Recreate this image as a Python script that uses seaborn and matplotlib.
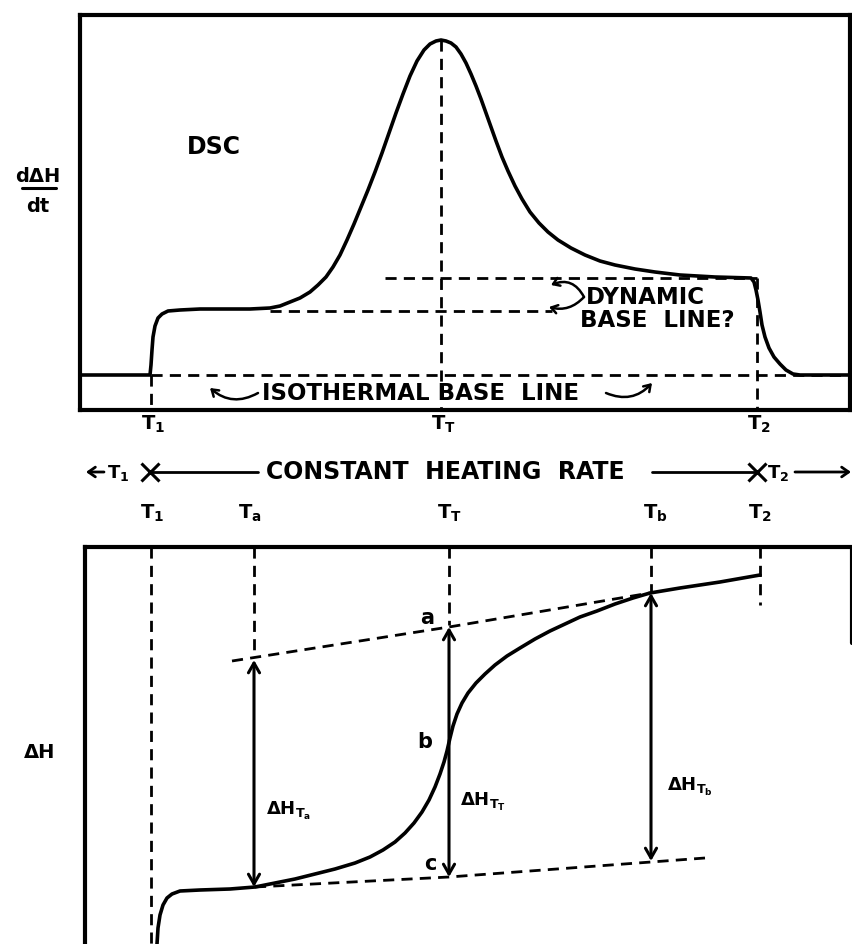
import numpy as np
import pandas as pd
import matplotlib
matplotlib.use("Agg")
import matplotlib.pyplot as plt
import seaborn as sns

# ---------------- data (picture units) ----------------
# DSC trace (top panel): temperature position vs. signal position
dsc_temp = [80, 150, 151, 152, 153, 155, 158, 162, 168, 180, 200, 250, 270, 280, 290,
            300, 310, 318, 326, 333, 340, 347, 354, 361, 368, 375, 382, 389, 396, 403,
            410, 417, 424, 430, 436, 441, 446, 451, 456, 461, 466, 471, 476, 481, 486,
            491, 496, 502, 508, 515, 522, 530, 539, 548, 558, 571, 585, 600, 615, 635,
            655, 680, 715, 751, 754, 756, 758, 760, 762, 765, 769, 774, 780, 786, 793,
            800, 850]
dsc_signal = [375, 375, 365, 350, 337, 326, 318, 314, 311, 310, 309, 309, 308, 306, 302,
              298, 292, 285, 277, 267, 255, 240, 224, 207, 190, 172, 153, 133, 113, 94,
              76, 61, 50, 44, 41, 40, 41, 43, 47, 54, 63, 74, 86, 99, 113,
              127, 141, 157, 171, 186, 199, 212, 223, 232, 240, 248, 255, 261, 265, 269,
              272, 275, 277, 278, 282, 290, 300, 312, 325, 337, 348, 357, 364, 370, 374,
              375, 375]
iso_base = 375
dyn_upper = 278
dyn_lower = 311

# Enthalpy trace (bottom panel)
dh_temp = [157, 158, 160, 163, 167, 172, 180, 200, 230, 255, 275, 295, 315, 335, 355,
           370, 383, 395, 405, 414, 422, 429, 435, 440, 444, 447, 450, 453, 457, 462,
           468, 476, 485, 495, 507, 520, 535, 550, 565, 580, 597, 615, 633, 650, 680,
           720, 760]
dh_enth = [944, 928, 915, 905, 898, 894, 891, 890, 889, 887, 883, 879, 874, 869, 863,
           857, 850, 842, 833, 823, 812, 800, 787, 774, 762, 751, 738, 726, 714, 703,
           693, 683, 674, 665, 656, 648, 639, 631, 624, 617, 611, 604, 598, 593, 588,
           582, 575]
upper_temp = [232, 449, 650]
upper_enth = [661, 627, 593]
lower_temp = [255, 449, 705]
lower_enth = [887, 877, 858]

# characteristic temperatures
T1, TT_top, T2_top = 151, 441, 757
Ta, TT, Tb, T2 = 254, 449, 651, 760
arrow_top = [660, 627, 593]
arrow_bot = [887, 877, 861]

top_labels = [r"$\mathbf{T_1}$", r"$\mathbf{T_T}$", r"$\mathbf{T_2}$"]
bot_labels = [r"$\mathbf{T_1}$", r"$\mathbf{T_a}$", r"$\mathbf{T_T}$", r"$\mathbf{T_b}$", r"$\mathbf{T_2}$"]
dh_labels = [r"$\mathbf{\Delta H_{T_a}}$", r"$\mathbf{\Delta H_{T_T}}$", r"$\mathbf{\Delta H_{T_b}}$"]

# ---------------- style ----------------
sns.set_style("white")
plt.rcParams["font.family"] = ["DejaVu Sans"]
plt.rcParams["font.weight"] = "bold"
plt.rcParams["mathtext.fontset"] = "dejavusans"
plt.rcParams["text.color"] = "black"

W, H = 853, 944
fig = plt.figure(figsize=(W / 100, H / 100), dpi=100)
fig.patch.set_facecolor("white")

bg = fig.add_axes([0, 0, 1, 1])
bg.set_xlim(0, W)
bg.set_ylim(H, 0)
bg.axis("off")

DASH = (0, (4, 2.6))
K = "black"


def panel(x0, y0, x1, y1):
    ax = fig.add_axes([x0 / W, 1 - y1 / H, (x1 - x0) / W, (y1 - y0) / H])
    ax.set_xlim(x0, x1)
    ax.set_ylim(y1, y0)
    ax.set_xticks([])
    ax.set_yticks([])
    ax.set_facecolor("none")
    for s in ax.spines.values():
        s.set_linewidth(3)
        s.set_color(K)
    return ax


# ---------------- top panel (DSC) ----------------
ax1 = panel(80, 15, 850, 410)
sns.lineplot(x=dsc_temp, y=dsc_signal, ax=ax1, color=K, lw=2.6, sort=False,
             estimator=None)
ax1.plot([T1, 850], [iso_base, iso_base], color=K, lw=2, ls=DASH)
ax1.plot([385, T2_top], [dyn_upper, dyn_upper], color=K, lw=2, ls=DASH)
ax1.plot([270, 552], [dyn_lower, dyn_lower], color=K, lw=2, ls=DASH)
ax1.plot([TT_top, TT_top], [40, 410], color=K, lw=2, ls=DASH)
ax1.plot([T1, T1], [iso_base, 410], color=K, lw=2, ls=DASH)
ax1.plot([T2_top, T2_top], [dyn_upper, 410], color=K, lw=2, ls=DASH)

ax1.text(214, 147, "DSC", ha="center", va="center", fontsize=17, fontweight="bold")
ax1.text(586, 297, "DYNAMIC", ha="left", va="center", fontsize=16.5, fontweight="bold")
ax1.text(580, 320, "BASE  LINE?", ha="left", va="center", fontsize=16.5,
         fontweight="bold")
ax1.text(262, 393, "ISOTHERMAL BASE  LINE", ha="left", va="center", fontsize=16.5,
         fontweight="bold")
ap = dict(arrowstyle="->,head_length=0.45,head_width=0.3", lw=1.8, color=K,
          shrinkA=0, shrinkB=0)
ax1.annotate("", xy=(551, 285), xytext=(584, 297),
             arrowprops=dict(ap, connectionstyle="arc3,rad=0.45"))
ax1.annotate("", xy=(549, 307), xytext=(584, 297),
             arrowprops=dict(ap, connectionstyle="arc3,rad=-0.3"))
ax1.annotate("", xy=(210, 388), xytext=(258, 393),
             arrowprops=dict(ap, connectionstyle="arc3,rad=-0.35"))
ax1.annotate("", xy=(652, 383), xytext=(606, 393),
             arrowprops=dict(ap, connectionstyle="arc3,rad=0.35"))

for x, lab in zip([T1, TT_top, T2_top], top_labels):
    bg.text(x + 2, 424, lab, ha="center", va="center", fontsize=14)

# ---------------- middle row ----------------
yr = 472
bg.annotate("", xy=(86, yr), xytext=(104, yr),
            arrowprops=dict(arrowstyle="->,head_length=0.5,head_width=0.35", lw=2,
                            color=K, shrinkA=0, shrinkB=0))
bg.text(118, yr + 1, r"$\mathbf{T_1}$", ha="center", va="center", fontsize=13)
bg.plot([150, 258], [yr, yr], color=K, lw=2)
bg.plot([150, 757], [yr, yr], color=K, lw=0, marker="x", markersize=13, mew=2.2,
        markevery=[0, 1])
bg.text(266, yr, "CONSTANT  HEATING  RATE", ha="left", va="center", fontsize=17,
        fontweight="bold")
bg.plot([652, 757], [yr, yr], color=K, lw=2)
bg.text(778, yr + 1, r"$\mathbf{T_2}$", ha="center", va="center", fontsize=13)
bg.annotate("", xy=(851, yr), xytext=(795, yr),
            arrowprops=dict(arrowstyle="->,head_length=0.5,head_width=0.35", lw=2,
                            color=K, shrinkA=0, shrinkB=0))

# ---------------- bottom panel (enthalpy) ----------------
ax2 = panel(85, 547, 852, 944)
ax2.spines["right"].set_visible(False)
ax2.spines["bottom"].set_visible(False)
ax2.plot([852, 852], [547, 643], color=K, lw=3, clip_on=False)

sns.lineplot(x=dh_temp, y=dh_enth, ax=ax2, color=K, lw=2.6, sort=False,
             estimator=None)
ax2.plot(upper_temp, upper_enth, color=K, lw=2, ls=DASH)
ax2.plot(lower_temp, lower_enth, color=K, lw=2, ls=DASH)

for x, yb in zip([T1, Ta, TT, Tb, T2], [944, 655, 625, 593, 605]):
    ax2.plot([x, x], [547, yb], color=K, lw=2, ls=DASH)

for x, yt, yb in zip([Ta, TT, Tb], arrow_top, arrow_bot):
    ax2.annotate("", xy=(x, yt), xytext=(x, yb),
                 arrowprops=dict(arrowstyle="<->,head_length=0.7,head_width=0.4",
                                 lw=2.2, color=K, shrinkA=0, shrinkB=0))

ax2.text(427, 618, "a", ha="center", va="center", fontsize=15, fontweight="bold")
ax2.text(425, 742, "b", ha="center", va="center", fontsize=15, fontweight="bold")
ax2.text(430, 864, "c", ha="center", va="center", fontsize=15, fontweight="bold")
for x, y, lab in zip([266, 460, 667], [811, 802, 787], dh_labels):
    ax2.text(x, y, lab, ha="left", va="center", fontsize=13)

for x, lab in zip([152, 250, 449, 655, 760], bot_labels):
    bg.text(x, 513, lab, ha="center", va="center", fontsize=14)

# axis titles
bg.text(38, 176, "dΔH", ha="center", va="center", fontsize=14, fontweight="bold")
bg.plot([22, 56], [188, 188], color=K, lw=2.2)
bg.text(38, 207, "dt", ha="center", va="center", fontsize=14, fontweight="bold")
bg.text(40, 752, "ΔH", ha="center", va="center", fontsize=14, fontweight="bold")

fig.savefig("out.png", dpi=100, facecolor="white")
